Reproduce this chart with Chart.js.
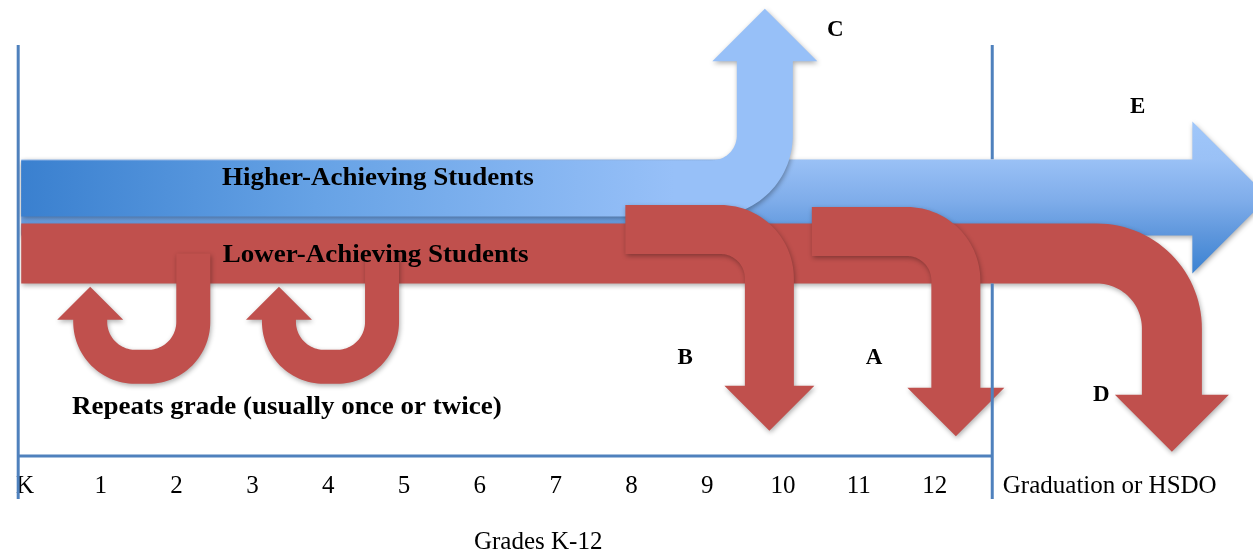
<!DOCTYPE html>
<html>
<head>
<meta charset="utf-8">
<script src="https://cdn.jsdelivr.net/npm/chart.js@4.4.1/dist/chart.umd.min.js"></script>
<style>
html, body { margin: 0; padding: 0; background: #fff; }
canvas { display: block; }
</style>
</head>
<body>
<canvas id="flujo" width="1253" height="558"></canvas>
<script>
// eje de grados
var gradeLabels = ['K', '1', '2', '3', '4', '5', '6', '7', '8', '9', '10', '11', '12', 'Graduation or HSDO'];
var gradeTicks = [0, 1, 2, 3, 4, 5, 6, 7, 8, 9, 10, 11, 12, 14.31];

// trayectorias de las flechas (x = grado, y = profundidad desde arriba)
var higherPath = [[-0.05, 18.8], [9.76, 18.8], [9.76, 6.1]];          // C
var graduatePath = [[-0.05, 19.7], [15.4, 19.7]];                     // E
var lowerPath = [[-0.05, 25.3], [15.13, 25.3], [15.13, 39.4]];        // D
var dropoutB = [[7.92, 22.9], [9.82, 22.9], [9.82, 38.5]];
var dropoutA = [[10.38, 23.1], [12.28, 23.1], [12.28, 38.7]];
var repeat1 = [[2.22, 25.3], [2.22, 36.6], [0.86, 36.6], [0.86, 31.9]];
var repeat2 = [[4.71, 25.3], [4.71, 36.6], [3.35, 36.6], [3.35, 31.9]];

// lineas del marco
var leftLine = [[-0.09, 4.5], [-0.09, 49.8]];
var rightTop = [[12.76, 4.5], [12.76, 15.9]];
var rightBottom = [[12.76, 28.3], [12.76, 49.8]];
var baseLine = [[-0.09, 45.5], [12.76, 45.5]];

// textos
var noteTexts = ['Higher-Achieving Students', 'Lower-Achieving Students', 'Repeats grade (usually once or twice)'];
var noteX = [2.6, 2.61, 0.62];
var noteY = [18.5, 26.1, 41.3];
var letterTexts = ['A', 'B', 'C', 'D', 'E'];
var letterX = [11.2, 8.71, 10.69, 14.2, 14.68];
var letterY = [36.3, 36.3, 3.6, 40.0, 11.3];
var axisTitle = 'Grades K-12';
var axisTitleX = 6.77, axisTitleY = 54.1;

var ROJO = '#c0504d';
var AZUL = '#4f81bd';

function toPts(a) {
    return a.map(function (p) { return { x: p[0], y: p[1] }; });
}

function flecha(label, path, o) {
    return { label: label, data: toPts(path), showLine: false, pointRadius: 0, arrow: o };
}

function linea(label, path) {
    return { label: label, data: toPts(path), showLine: true, borderColor: AZUL, borderWidth: 3,
             pointRadius: 0, clip: false, fill: false };
}

// recorre la linea central con esquinas redondeadas
function muestrear(pts, r) {
    var out = [];
    var n = pts.length;
    function dir(a, b) {
        var dx = b.x - a.x, dy = b.y - a.y, l = Math.hypot(dx, dy);
        return { x: dx / l, y: dy / l };
    }
    out.push({ x: pts[0].x, y: pts[0].y, t: dir(pts[0], pts[1]) });
    for (var i = 1; i < n - 1; i++) {
        var d1 = dir(pts[i - 1], pts[i]), d2 = dir(pts[i], pts[i + 1]);
        var p = pts[i];
        var a = { x: p.x - d1.x * r, y: p.y - d1.y * r };
        var b = { x: p.x + d2.x * r, y: p.y + d2.y * r };
        var c = { x: a.x + d2.x * r, y: a.y + d2.y * r };
        var a0 = Math.atan2(a.y - c.y, a.x - c.x);
        var a1 = Math.atan2(b.y - c.y, b.x - c.x);
        var da = a1 - a0;
        while (da > Math.PI) da -= 2 * Math.PI;
        while (da < -Math.PI) da += 2 * Math.PI;
        var s = Math.sign(da);
        for (var k = 0; k <= 30; k++) {
            var ang = a0 + da * k / 30;
            out.push({ x: c.x + r * Math.cos(ang), y: c.y + r * Math.sin(ang),
                       t: { x: -Math.sin(ang) * s, y: Math.cos(ang) * s } });
        }
    }
    out.push({ x: pts[n - 1].x, y: pts[n - 1].y, t: dir(pts[n - 2], pts[n - 1]) });
    return out;
}

function dibujarFlecha(ctx, pts, o) {
    var m = muestrear(pts, o.radius);
    var izq = [], der = [];
    var w = o.width / 2;
    m.forEach(function (p) {
        var nx = -p.t.y, ny = p.t.x;
        izq.push([p.x + nx * w, p.y + ny * w]);
        der.push([p.x - nx * w, p.y - ny * w]);
    });
    var fin = m[m.length - 1];
    var nx = -fin.t.y, ny = fin.t.x, h = o.head / 2;
    var poly = izq.slice();
    poly.push([fin.x + nx * h, fin.y + ny * h]);
    poly.push([fin.x + fin.t.x * h, fin.y + fin.t.y * h]);
    poly.push([fin.x - nx * h, fin.y - ny * h]);
    poly = poly.concat(der.reverse());

    var minX = Infinity, maxX = -Infinity, minY = Infinity, maxY = -Infinity;
    poly.forEach(function (q) {
        minX = Math.min(minX, q[0]); maxX = Math.max(maxX, q[0]);
        minY = Math.min(minY, q[1]); maxY = Math.max(maxY, q[1]);
    });
    var fill = o.color;
    if (o.grad) {
        var g = o.grad.axis === 'x'
            ? ctx.createLinearGradient(minX, 0, minX + (maxX - minX) * o.grad.span, 0)
            : ctx.createLinearGradient(0, minY, 0, maxY);
        o.grad.stops.forEach(function (st) { g.addColorStop(st[0], st[1]); });
        fill = g;
    }
    ctx.save();
    ctx.shadowColor = 'rgba(0,0,0,0.32)';
    ctx.shadowBlur = 5;
    ctx.shadowOffsetX = 1;
    ctx.shadowOffsetY = 2;
    ctx.beginPath();
    poly.forEach(function (q, i) { if (i === 0) ctx.moveTo(q[0], q[1]); else ctx.lineTo(q[0], q[1]); });
    ctx.closePath();
    ctx.fillStyle = fill;
    ctx.fill();
    ctx.restore();
}

var flechasPlugin = {
    id: 'flechas',
    beforeDatasetsDraw: function (chart) {
        var ctx = chart.ctx;
        chart.data.datasets.forEach(function (ds, i) {
            if (!ds.arrow) return;
            var pts = chart.getDatasetMeta(i).data.map(function (e) { return { x: e.x, y: e.y }; });
            dibujarFlecha(ctx, pts, ds.arrow);
        });
    },
    afterDraw: function (chart) {
        var ctx = chart.ctx, sx = chart.scales.x, sy = chart.scales.y;
        ctx.save();
        ctx.fillStyle = '#000';
        ctx.font = 'bold 25px "Liberation Serif"';
        ctx.textAlign = 'left';
        ctx.textBaseline = 'alphabetic';
        noteTexts.forEach(function (t, i) {
            ctx.save();
            ctx.translate(sx.getPixelForValue(noteX[i]), sy.getPixelForValue(noteY[i]));
            ctx.scale(1.08, 1);
            ctx.fillText(t, 0, 0);
            ctx.restore();
        });
        ctx.font = 'bold 23px "Liberation Serif"';
        ctx.textAlign = 'center';
        letterTexts.forEach(function (t, i) {
            ctx.fillText(t, sx.getPixelForValue(letterX[i]), sy.getPixelForValue(letterY[i]));
        });
        ctx.font = '25px "Liberation Serif"';
        ctx.textBaseline = 'middle';
        ctx.fillText(axisTitle, sx.getPixelForValue(axisTitleX), sy.getPixelForValue(axisTitleY));
        ctx.restore();
    }
};

var ctx = document.getElementById('flujo');
var mychart = new Chart(ctx, {
    type: 'scatter',
    data: {
        datasets: [
            flecha('E', graduatePath, { width: 76, radius: 0, head: 152,
                grad: { axis: 'y', stops: [[0, '#a0c7fa'], [0.25, '#9ac1f6'], [0.52, '#7fadea'], [0.75, '#5d96dc'], [1, '#3a82d2']] } }),
            flecha('C', higherPath, { width: 56, radius: 53, head: 105,
                grad: { axis: 'x', span: 0.82, stops: [[0, '#3a80cf'], [0.45, '#66a2e5'], [1, '#97c0f8']] } }),
            flecha('D', lowerPath, { width: 60, radius: 75, head: 114, color: ROJO }),
            flecha('R1', repeat1, { width: 34, radius: 45, head: 66, color: ROJO }),
            flecha('R2', repeat2, { width: 34, radius: 45, head: 66, color: ROJO }),
            flecha('B', dropoutB, { width: 49, radius: 49, head: 90, color: ROJO }),
            flecha('A', dropoutA, { width: 49, radius: 49, head: 97, color: ROJO }),
            linea('left', leftLine),
            linea('rightTop', rightTop),
            linea('rightBottom', rightBottom),
            linea('base', baseLine)
        ]
    },
    options: {
        responsive: false,
        animation: false,
        devicePixelRatio: 1,
        events: [],
        layout: { padding: { left: 0, right: 0, top: 0, bottom: 53 } },
        plugins: { legend: { display: false }, tooltip: { enabled: false } },
        scales: {
            x: {
                type: 'linear',
                min: -0.33,
                max: 16.2,
                afterBuildTicks: function (s) {
                    s.ticks = gradeTicks.map(function (v) { return { value: v }; });
                },
                ticks: {
                    autoSkip: false,
                    maxRotation: 0,
                    padding: 4,
                    color: '#000',
                    font: { family: 'Liberation Serif', size: 25 },
                    callback: function (v, i) { return gradeLabels[i]; }
                },
                grid: { display: false, drawTicks: false },
                border: { display: false }
            },
            y: {
                type: 'linear',
                display: false,
                min: 0,
                max: 46.6,
                reverse: true
            }
        }
    },
    plugins: [flechasPlugin]
});
</script>
</body>
</html>
